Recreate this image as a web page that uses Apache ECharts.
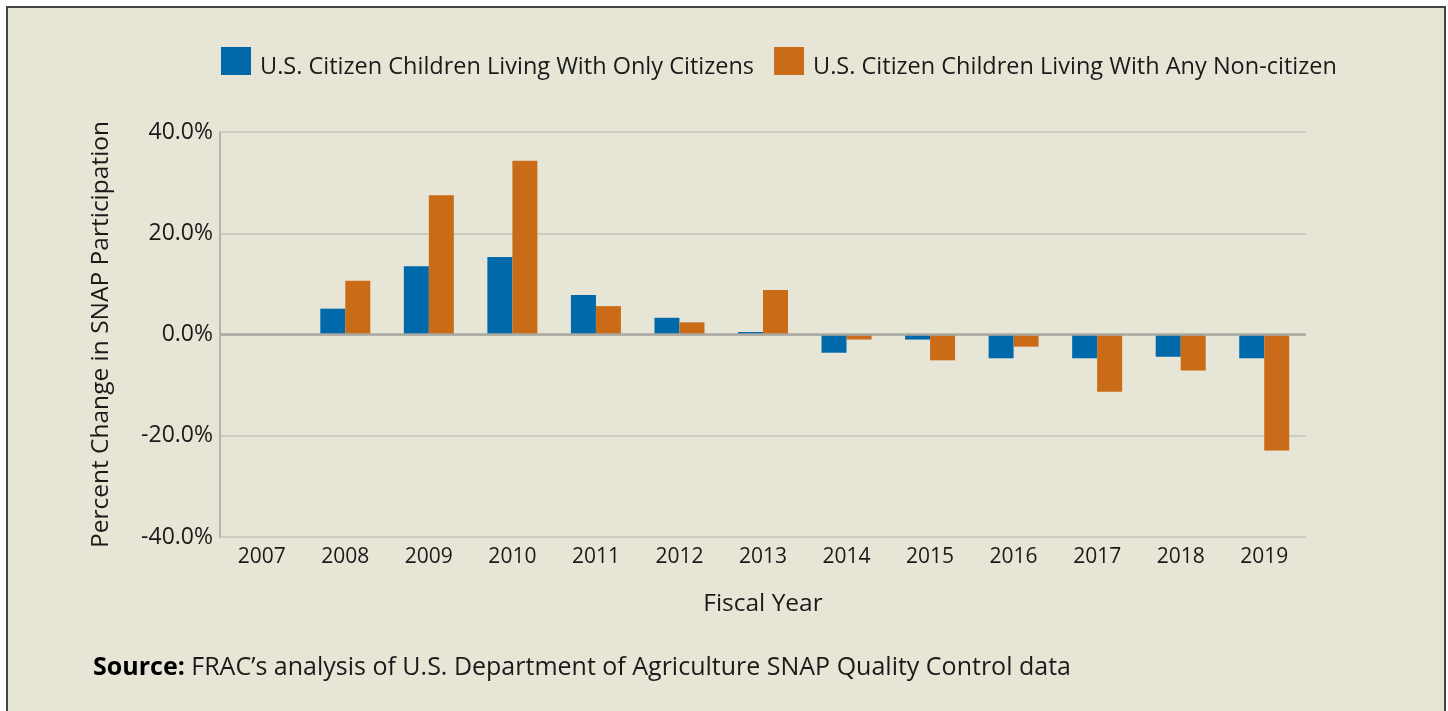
<!DOCTYPE html>
<html>
<head>
<meta charset="utf-8">
<script src="https://cdn.jsdelivr.net/npm/echarts@6/dist/echarts.min.js"></script>
<style>
  html, body { margin: 0; padding: 0; background: #fff; }
  #chart { width: 1448px; height: 711px; }
</style>
</head>
<body>
<div id="chart"></div>
<script>
// fiscal years
const years = ['2007', '2008', '2009', '2010', '2011', '2012', '2013', '2014', '2015', '2016', '2017', '2018', '2019'];
// percent change, citizen children living with only citizens
const onlyCitizens = [null, 5.1, 13.5, 15.3, 7.8, 3.3, 0.5, -3.6, -1.0, -4.7, -4.7, -4.4, -4.7];
// percent change, citizen children living with any non-citizen
const anyNonCitizen = [null, 10.6, 27.5, 34.3, 5.6, 2.4, 8.8, -1.0, -5.1, -2.4, -11.3, -7.1, -22.9];
const seriesNames = ['U.S. Citizen Children Living With Only Citizens', 'U.S. Citizen Children Living With Any Non-citizen'];

const font = '"Open Sans", sans-serif';
const chart = echarts.init(document.getElementById('chart'), null, { renderer: 'canvas' });

chart.setOption({
  backgroundColor: '#ffffff',
  animation: false,
  color: ['#0069aa', '#ca6b18'],
  textStyle: { fontFamily: font, color: '#1a1a1a' },
  graphic: [
    { // frame
      type: 'rect',
      z: -10,
      shape: { x: 7, y: 7, width: 1438, height: 712 },
      style: { fill: '#e7e6d6', stroke: '#444', lineWidth: 2 }
    },
    {
      type: 'text',
      left: 93,
      top: 655,
      style: {
        text: '{b|Source:} FRAC’s analysis of U.S. Department of Agriculture SNAP Quality Control data',
        fontFamily: font,
        fontSize: 25,
        fill: '#1a1a1a',
        rich: { b: { fontWeight: 'bold', fontSize: 25, fontFamily: font, fill: '#000' } }
      }
    }
  ],
  legend: {
    top: 42,
    left: 216,
    itemWidth: 30,
    itemHeight: 28,
    itemGap: 20,
    icon: 'rect',
    formatter: name => '{t|' + name + '}',
    textStyle: {
      fontSize: 23.5,
      fontFamily: font,
      color: '#1a1a1a',
      rich: { t: { fontSize: 23.5, fontFamily: font, color: '#1a1a1a', padding: [12, 0, 0, 4] } }
    },
    data: seriesNames
  },
  grid: { left: 220, right: 142, top: 132, bottom: 174 },
  xAxis: {
    type: 'category',
    data: years,
    axisLine: { show: false },
    axisTick: { show: false },
    axisLabel: { fontSize: 21, color: '#1a1a1a', margin: 10 },
    name: 'Fiscal Year',
    nameLocation: 'middle',
    nameGap: 55,
    nameTextStyle: { fontSize: 24.5, color: '#1a1a1a' }
  },
  yAxis: {
    type: 'value',
    min: -40,
    max: 40,
    interval: 20,
    axisLine: { show: true, lineStyle: { color: '#b5b5ad', width: 2 } },
    axisTick: { show: false },
    splitLine: { lineStyle: { color: '#c6c5bb', width: 1.5 } },
    axisLabel: {
      fontSize: 23,
      color: '#1a1a1a',
      margin: 7,
      formatter: v => v.toFixed(1) + '%'
    },
    name: 'Percent Change in SNAP Participation',
    nameLocation: 'middle',
    nameGap: 106,
    nameTextStyle: { fontSize: 24.5, color: '#1a1a1a' }
  },
  series: [
    {
      name: seriesNames[0],
      type: 'bar',
      data: onlyCitizens,
      barWidth: 25,
      barGap: '0%',
      markLine: {
        silent: true,
        symbol: 'none',
        label: { show: false },
        lineStyle: { color: '#a9a9a1', width: 2.5, type: 'solid' },
        data: [{ yAxis: 0 }]
      }
    },
    {
      name: seriesNames[1],
      type: 'bar',
      data: anyNonCitizen,
      barWidth: 25,
      barGap: '0%'
    }
  ]
});
</script>
</body>
</html>
